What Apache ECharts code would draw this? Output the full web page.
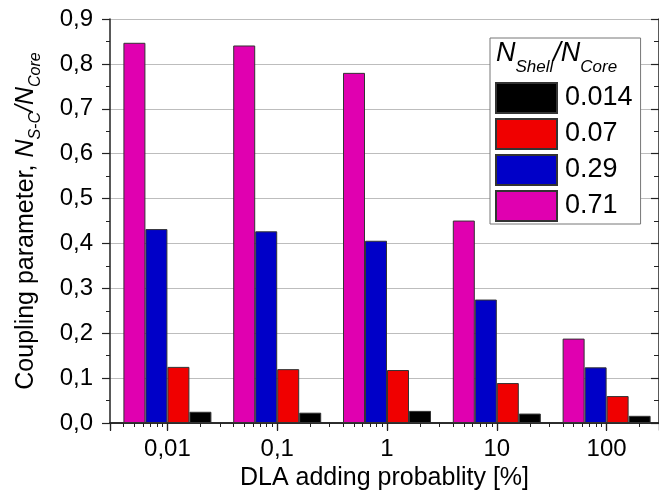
<!DOCTYPE html>
<html>
<head>
<meta charset="utf-8">
<script src="https://cdn.jsdelivr.net/npm/echarts@6/dist/echarts.min.js"></script>
<style>
  html, body { margin: 0; padding: 0; background: #fff; }
  #chart { width: 659px; height: 498px; }
</style>
</head>
<body>
<div id="chart"></div>
<script>
// DLA adding probability [%] (log x axis)
const probabilities = [0.01, 0.1, 1, 10, 100];
// N_Shell/N_Core ratios, bar order left to right
const ratioNames = ['0.71', '0.29', '0.07', '0.014'];
const legendOrder = ['0.014', '0.07', '0.29', '0.71'];
// coupling parameter N_S-C/N_Core per ratio
const ratio071 = [0.847, 0.841, 0.780, 0.451, 0.188];
const ratio029 = [0.432, 0.427, 0.406, 0.275, 0.124];
const ratio007 = [0.125, 0.120, 0.118, 0.089, 0.060];
const ratio0014 = [0.025, 0.023, 0.027, 0.021, 0.016];
const seriesValues = [ratio071, ratio029, ratio007, ratio0014];
const colors = ['#E000B0', '#0000C8', '#F00000', '#000000'];

const FONT = 'Liberation Sans, Arial, sans-serif';
const chart = echarts.init(document.getElementById('chart'));

const fmtX = v => String(+(+v).toPrecision(6)).replace('.', ',');
const fmtY = v => v.toFixed(1).replace('.', ',');

const xBase = {
  type: 'log', logBase: 10, min: 0.003, max: 300,
  splitLine: { show: false },
  axisLine: { lineStyle: { color: '#222', width: 1.5 } }
};
const yBase = {
  type: 'value', min: 0, max: 0.9, interval: 0.1,
  axisLine: { show: true, lineStyle: { color: '#222', width: 1.5 } }
};

const option = {
  animation: false,
  textStyle: { fontFamily: FONT },
  grid: { left: 110, right: -1, top: 19, bottom: 75, containLabel: false },
  title: {
    text: '{n|N}{s|Shell}{n|/N}{s|Core}',
    left: 496, top: 40, padding: 0,
    textStyle: {
      fontWeight: 'normal',
      rich: {
        n: { fontSize: 27, fontStyle: 'italic', fontWeight: 'normal', fontFamily: FONT, color: '#000', lineHeight: 30, verticalAlign: 'top' },
        s: { fontSize: 17, fontStyle: 'italic', fontWeight: 'normal', fontFamily: FONT, color: '#000', lineHeight: 16, verticalAlign: 'bottom', padding: [0, 0, -6, 0] }
      }
    }
  },
  legend: {
    data: legendOrder.map(n => ({ name: n, icon: 'rect' })),
    orient: 'vertical',
    left: 490, top: 38,
    padding: [44, 8, 2, 5],
    itemWidth: 61, itemHeight: 30, itemGap: 4,
    borderColor: '#777', borderWidth: 1, borderRadius: 0,
    backgroundColor: '#fff',
    textStyle: { fontSize: 27, color: '#000', fontFamily: FONT, padding: [0, 0, 0, 3] }
  },
  xAxis: [
    Object.assign({}, xBase, {
      position: 'bottom',
      name: 'DLA adding probablity [%]', nameLocation: 'middle', nameGap: 40,
      nameTextStyle: { fontSize: 25, color: '#000', fontFamily: FONT },
      axisTick: { inside: false, length: 8, lineStyle: { color: '#222', width: 1.2 } },
      minorTick: { show: true, splitNumber: 9, length: 4, lineStyle: { color: '#222', width: 1 } },
      axisLabel: { fontSize: 24, color: '#000', margin: 14, formatter: fmtX, showMinLabel: false, showMaxLabel: false }
    }),
    Object.assign({}, xBase, {
      position: 'top',
      axisTick: { inside: true, length: 7, lineStyle: { color: '#222', width: 1.2 } },
      minorTick: { show: true, splitNumber: 9, length: 4, lineStyle: { color: '#222', width: 1 } },
      axisLabel: { show: false }
    })
  ],
  yAxis: [
    Object.assign({}, yBase, {
      position: 'left',
      name: '{t|Coupling parameter, }{n|N}{s|S-C}{n|/N}{s|Core}',
      nameLocation: 'middle', nameGap: 70,
      nameTextStyle: {
        rich: {
          t: { fontSize: 25, color: '#000', fontFamily: FONT, lineHeight: 28, verticalAlign: 'middle' },
          n: { fontSize: 25, color: '#000', fontFamily: FONT, fontStyle: 'italic', lineHeight: 28, verticalAlign: 'middle' },
          s: { fontSize: 16, color: '#000', fontFamily: FONT, fontStyle: 'italic', lineHeight: 16, verticalAlign: 'bottom', padding: [0, 0, -4, 0] }
        }
      },
      axisTick: { inside: false, length: 8, lineStyle: { color: '#222', width: 1.2 } },
      minorTick: { show: true, splitNumber: 2, length: 4, lineStyle: { color: '#222', width: 1 } },
      axisLabel: { fontSize: 24, color: '#000', margin: 17, formatter: fmtY },
      splitLine: { show: true, lineStyle: { color: '#BDBDBD', width: 1.2 } }
    }),
    Object.assign({}, yBase, {
      position: 'right',
      axisTick: { inside: true, length: 8, lineStyle: { color: '#222', width: 1.2 } },
      minorTick: { show: true, splitNumber: 2, length: 5, lineStyle: { color: '#222', width: 1 } },
      axisLabel: { show: false },
      splitLine: { show: false }
    })
  ],
  series: ratioNames.map((name, k) => ({
    name: name,
    type: 'bar',
    xAxisIndex: 0, yAxisIndex: 0,
    barWidth: 22, barGap: '0%',
    itemStyle: { color: colors[k], borderColor: '#333', borderWidth: 1 },
    data: probabilities.map((p, i) => [p, seriesValues[k][i]])
  }))
};

chart.setOption(option);
</script>
</body>
</html>
